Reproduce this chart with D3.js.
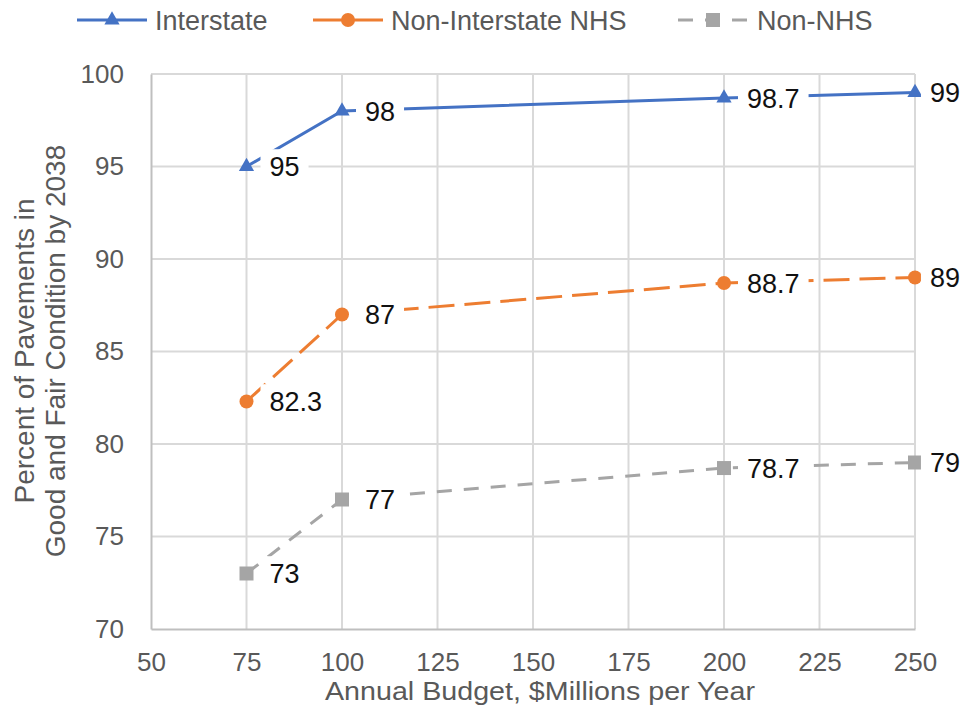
<!DOCTYPE html>
<html>
<head>
<meta charset="utf-8">
<script src="https://cdn.jsdelivr.net/npm/d3@7"></script>
<style>
  body { margin: 0; background: #fff; }
  svg { font-family: Arial, "Liberation Sans", sans-serif; }
</style>
</head>
<body>
<svg id="chart" width="961" height="718"></svg>
<script>
// Annual budget scenarios ($M per year)
const budgets = [75, 100, 200, 250];
// Percent of pavements in good and fair condition by 2038
const interstate = [95, 98, 98.7, 99];
const nonInterstateNHS = [82.3, 87, 88.7, 89];
const nonNHS = [73, 77, 78.7, 79];

const xTicks = [50, 75, 100, 125, 150, 175, 200, 225, 250];
const yTicks = [70, 75, 80, 85, 90, 95, 100];

const seriesNames = ["Interstate", "Non-Interstate NHS", "Non-NHS"];
const seriesValues = [interstate, nonInterstateNHS, nonNHS];
const seriesColors = ["#4472C4", "#ED7D31", "#A5A5A5"];
const seriesDash = [null, "26,10", "15,12"];
const seriesMarker = ["triangle", "circle", "square"];

const svg = d3.select("#chart");
const W = 961;
const plotL = 151, plotR = 915, plotT = 74, plotB = 629;
const textColor = "#595959";

const x = d3.scaleLinear().domain([50, 250]).range([plotL, plotR]);
const y = d3.scaleLinear().domain([70, 100]).range([plotB, plotT]);

// Gridlines
svg.append("g").selectAll("line").data(xTicks.slice(1)).join("line")
  .attr("x1", d => x(d)).attr("x2", d => x(d))
  .attr("y1", plotT).attr("y2", plotB)
  .attr("stroke", "#D9D9D9").attr("stroke-width", 2);
svg.append("g").selectAll("line").data(yTicks.slice(1)).join("line")
  .attr("x1", plotL).attr("x2", plotR)
  .attr("y1", d => y(d)).attr("y2", d => y(d))
  .attr("stroke", "#D9D9D9").attr("stroke-width", 2);

// Axes
const xAxis = svg.append("g").attr("transform", `translate(0,${plotB})`)
  .call(d3.axisBottom(x).tickValues(xTicks).tickSize(0).tickPadding(24));
const yAxis = svg.append("g").attr("transform", `translate(${plotL},0)`)
  .call(d3.axisLeft(y).tickValues(yTicks).tickSize(0).tickPadding(27));
[xAxis, yAxis].forEach(a => {
  a.select(".domain").attr("stroke", "#BFBFBF").attr("stroke-width", 2);
  a.selectAll("text").attr("font-size", 26).attr("fill", textColor)
    .attr("font-family", "Arial, 'Liberation Sans', sans-serif");
});
xAxis.selectAll("text").attr("dy", "0.71em");

// Axis titles
svg.append("text").attr("x", 540).attr("y", 700)
  .attr("text-anchor", "middle").attr("font-size", 26).attr("fill", textColor)
  .attr("textLength", 430).attr("lengthAdjust", "spacingAndGlyphs")
  .text("Annual Budget, $Millions per Year");
const yt = svg.append("text").attr("transform", `translate(0,351) rotate(-90)`)
  .attr("text-anchor", "middle").attr("font-size", 28).attr("fill", textColor);
yt.append("tspan").attr("x", 0).attr("y", 34).text("Percent of Pavements in");
yt.append("tspan").attr("x", 0).attr("y", 65).text("Good and Fair Condition by 2038");

const line = d3.line().x((d, i) => x(budgets[i])).y(d => y(d));

function drawMarker(g, type, color, cx, cy) {
  if (type === "triangle") {
    g.append("path").attr("d", d3.symbol(d3.symbolTriangle, 100)())
      .attr("transform", `translate(${cx},${cy})`).attr("fill", color);
  } else if (type === "circle") {
    g.append("circle").attr("cx", cx).attr("cy", cy).attr("r", 7).attr("fill", color);
  } else {
    g.append("rect").attr("x", cx - 7).attr("y", cy - 7)
      .attr("width", 14).attr("height", 14).attr("fill", color);
  }
}

seriesValues.forEach((vals, s) => {
  const g = svg.append("g");
  g.append("path").datum(vals).attr("d", line)
    .attr("fill", "none").attr("stroke", seriesColors[s]).attr("stroke-width", 3)
    .attr("stroke-dasharray", seriesDash[s]);
  vals.forEach((v, i) => drawMarker(g, seriesMarker[s], seriesColors[s], x(budgets[i]), y(v)));
});

// Data labels with white backing, kept inside the chart's right edge
seriesValues.forEach((vals, s) => {
  vals.forEach((v, i) => {
    const ly = y(v);
    const t = svg.append("text").attr("y", ly).attr("dy", "0.36em")
      .attr("font-size", 27).attr("fill", "#111").text(String(v));
    const w = t.node().getComputedTextLength();
    const lx = Math.min(x(budgets[i]) + 23, W - 1 - w);
    t.attr("x", lx);
    const bb = t.node().getBBox();
    svg.insert("rect", () => t.node())
      .attr("x", bb.x - 9).attr("y", bb.y - 3)
      .attr("width", bb.width + 18).attr("height", bb.height + 6)
      .attr("fill", "#fff");
  });
});

// Legend
const legendX = [77, 313, 678];
seriesNames.forEach((name, s) => {
  const g = svg.append("g").attr("transform", `translate(${legendX[s]},20)`);
  g.append("line").attr("x1", 0).attr("x2", s === 2 ? 70 : 70).attr("y1", 0).attr("y2", 0)
    .attr("stroke", seriesColors[s]).attr("stroke-width", 3)
    .attr("stroke-dasharray", s === 2 ? "15,12" : null);
  drawMarker(g, seriesMarker[s], seriesColors[s], 35, 0);
  g.append("text").attr("x", s === 2 ? 79 : 78).attr("y", 0).attr("dy", "0.36em")
    .attr("font-size", 27).attr("fill", textColor).text(name);
});
</script>
</body>
</html>
